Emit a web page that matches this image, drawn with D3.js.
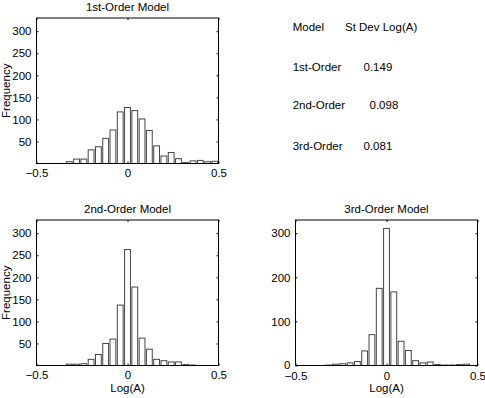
<!DOCTYPE html>
<html>
<head>
<meta charset="utf-8">
<script src="https://cdn.jsdelivr.net/npm/d3@7"></script>
<style>
  body { margin: 0; background: #fff; }
  svg text { font-family: "Liberation Sans", Arial, Helvetica, sans-serif; font-size: 11.5px; fill: #000; }
</style>
</head>
<body>
<div id="chart"></div>
<script>
// bin centres of the histograms (Log(A))
const binCenters = [-0.48, -0.44, -0.40, -0.36, -0.32, -0.28, -0.24, -0.20, -0.16, -0.12, -0.08, -0.04,
  0, 0.04, 0.08, 0.12, 0.16, 0.20, 0.24, 0.28, 0.32, 0.36, 0.40, 0.44, 0.48];
const firstOrder = [0, 0, 0, 0, 4, 10, 10, 31, 38, 57, 76, 117, 127, 120, 101, 75, 40, 17, 25, 11, 2, 6, 7, 4, 5];
const secondOrder = [0, 0, 0, 0, 3, 3, 4, 14, 25, 50, 60, 137, 263, 178, 62, 37, 14, 11, 8, 8, 2, 1, 0, 0, 0];
const thirdOrder = [0, 0, 0, 0, 1, 3, 4, 6, 9, 33, 70, 175, 311, 167, 55, 34, 11, 6, 8, 2, 1, 1, 2, 3, 0];
const xTicks = [-0.5, 0, 0.5];
const yTicksA = [50, 100, 150, 200, 250, 300];
const yTicksB = [0, 100, 200, 300];
const tableRows = [["Model", "St Dev Log(A)"], ["1st-Order", "0.149"], ["2nd-Order", "0.098"], ["3rd-Order", "0.081"]];

const svg = d3.select("#chart").append("svg")
  .attr("width", 485)
  .attr("height", 398);

function histPanel(opt) {
  const x = d3.scaleLinear().domain([-0.5, 0.5]).range([opt.left, opt.left + 182]);
  const y = d3.scaleLinear().domain([0, 330]).range([opt.top + 145.5, opt.top]);
  const g = svg.append("g");
  const step = x(0.04) - x(0);
  const bw = step * 0.8;

  g.selectAll("rect.bar")
    .data(opt.values)
    .enter()
    .append("rect")
    .attr("class", "bar")
    .attr("x", (d, i) => x(binCenters[i]) - bw / 2)
    .attr("y", d => y(d))
    .attr("width", bw)
    .attr("height", d => y(0) - y(d))
    .attr("fill", "#fff")
    .attr("stroke", "#444")
    .attr("stroke-width", 1);

  // axes, ticks inside like matlab
  const tl = 2;
  g.append("g")
    .attr("transform", `translate(0,${y(0)})`)
    .call(d3.axisBottom(x).tickValues(xTicks).tickSize(-tl).tickPadding(5).tickFormat(d3.format("")))
    .call(a => a.select(".domain").remove())
    .call(a => a.selectAll("text").attr("dy", opt.xdy));
  g.append("g")
    .attr("transform", `translate(0,${y(330)})`)
    .call(d3.axisTop(x).tickValues(xTicks).tickSize(-tl).tickFormat(""))
    .call(a => a.select(".domain").remove());
  g.append("g")
    .attr("transform", `translate(${x(-0.5)},0)`)
    .call(d3.axisLeft(y).tickValues(opt.yTicks).tickSize(-tl).tickPadding(5))
    .call(a => a.select(".domain").remove())
    .call(a => a.selectAll("text").filter(d => d === 0).attr("dy", "0.23em"));
  g.append("g")
    .attr("transform", `translate(${x(0.5)},0)`)
    .call(d3.axisRight(y).tickValues(opt.yTicks).tickSize(-tl).tickFormat(""))
    .call(a => a.select(".domain").remove());
  g.selectAll(".tick text").style("font-size", "11.5px").style("font-family", "'Liberation Sans', Arial, sans-serif");

  g.append("rect")
    .attr("x", x(-0.5)).attr("y", y(330))
    .attr("width", x(0.5) - x(-0.5)).attr("height", y(0) - y(330))
    .attr("fill", "none").attr("stroke", "#000").attr("stroke-width", 1);

  g.append("text")
    .attr("x", x(0)).attr("y", opt.top - 7.5)
    .attr("text-anchor", "middle")
    .text(opt.title);
  if (opt.ylabel) {
    g.append("text")
      .attr("transform", `translate(10,${opt.top + 72.75}) rotate(-90)`)
      .attr("text-anchor", "middle")
      .text(opt.ylabel);
  }
  if (opt.xlabel) {
    g.append("text")
      .attr("x", x(0)).attr("y", 392)
      .attr("text-anchor", "middle")
      .text(opt.xlabel);
  }
}

histPanel({ left: 36.5, top: 18, values: firstOrder, yTicks: yTicksA, title: "1st-Order Model", ylabel: "Frequency", xdy: "0.71em" });
histPanel({ left: 36.5, top: 220, values: secondOrder, yTicks: yTicksA, title: "2nd-Order Model", ylabel: "Frequency", xlabel: "Log(A)", xdy: "0.71em" });
histPanel({ left: 295.5, top: 220, values: thirdOrder, yTicks: yTicksB, title: "3rd-Order Model", xlabel: "Log(A)", xdy: "0.82em" });

// standard deviation table
const rowY = [31, 70.5, 108.5, 150];
const valX = [345, 363.5, 369.5, 363.5];
tableRows.forEach((r, i) => {
  svg.append("text").attr("x", 292.7).attr("y", rowY[i]).text(r[0]);
  svg.append("text").attr("x", valX[i]).attr("y", rowY[i]).text(r[1]);
});
</script>
</body>
</html>
